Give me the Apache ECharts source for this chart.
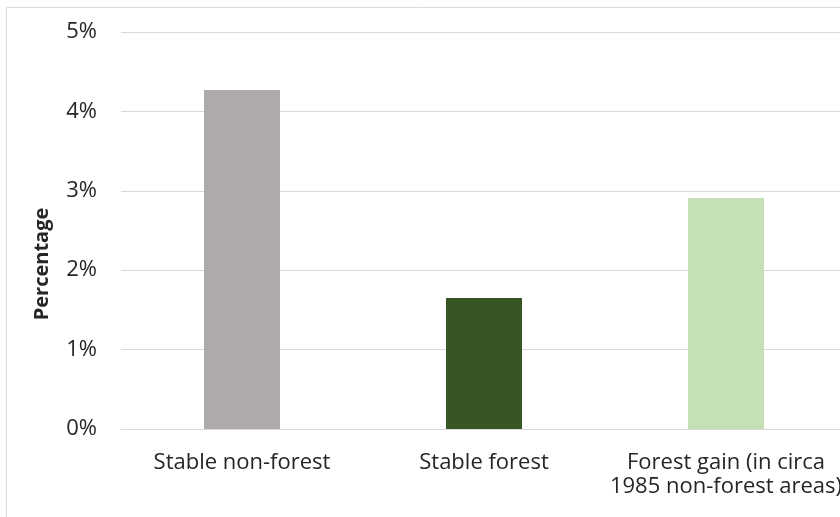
<!DOCTYPE html>
<html>
<head>
<meta charset="utf-8">
<style>
  html, body { margin: 0; padding: 0; background: #ffffff; }
  #chart { width: 840px; height: 517px; }
</style>
<script src="https://cdn.jsdelivr.net/npm/echarts@6/dist/echarts.min.js"></script>
</head>
<body>
<div id="chart"></div>
<script>
// Land cover classes and their share (%)
const categories = ['Stable non-forest', 'Stable forest', 'Forest gain (in circa\n1985 non-forest areas)'];
const values = [4.27, 1.65, 2.91];
const barColors = ['#AEAAAA', '#375623', '#C5E0B4'];
const yTicks = [0, 1, 2, 3, 4, 5];

const FONT = '"Open Sans", "Noto Sans", sans-serif';
const TEXT = '#262626';
const chart = echarts.init(document.getElementById('chart'), null, { renderer: 'canvas' });

chart.setOption({
  animation: false,
  backgroundColor: '#ffffff',
  graphic: [
    {
      type: 'rect',
      shape: { x: 6.5, y: 7.5, width: 900, height: 600 },
      style: { fill: 'none', stroke: '#d9d9d9', lineWidth: 1 },
      silent: true
    },
    {
      type: 'text',
      x: 42, y: 264,
      rotation: Math.PI / 2,
      style: {
        text: 'Percentage', fill: TEXT, font: 'bold 20px ' + FONT,
        align: 'center', verticalAlign: 'middle'
      },
      silent: true
    }
  ],
  // the plot area runs past the right edge of the canvas
  grid: { left: 121, width: 726, top: 32, bottom: 88, outerBoundsMode: 'none', containLabel: false },
  xAxis: {
    type: 'category',
    data: categories,
    axisLine: { show: true, lineStyle: { color: '#d9d9d9', width: 1 } },
    axisTick: { show: false },
    axisLabel: {
      color: TEXT, fontFamily: FONT, fontSize: 22,
      lineHeight: 24, margin: 22, interval: 0, align: 'center'
    }
  },
  yAxis: {
    type: 'value',
    min: yTicks[0],
    max: yTicks[yTicks.length - 1],
    interval: 1,
    axisLine: { show: false },
    axisTick: { show: false },
    splitLine: { lineStyle: { color: '#d9d9d9', width: 1 } },
    axisLabel: {
      color: TEXT, fontFamily: FONT, fontSize: 22, margin: 24,
      formatter: v => v + '%'
    }
  },
  series: [{
    type: 'bar',
    barWidth: 76,
    data: values.map((v, i) => ({ value: v, itemStyle: { color: barColors[i] } }))
  }]
});
</script>
</body>
</html>
